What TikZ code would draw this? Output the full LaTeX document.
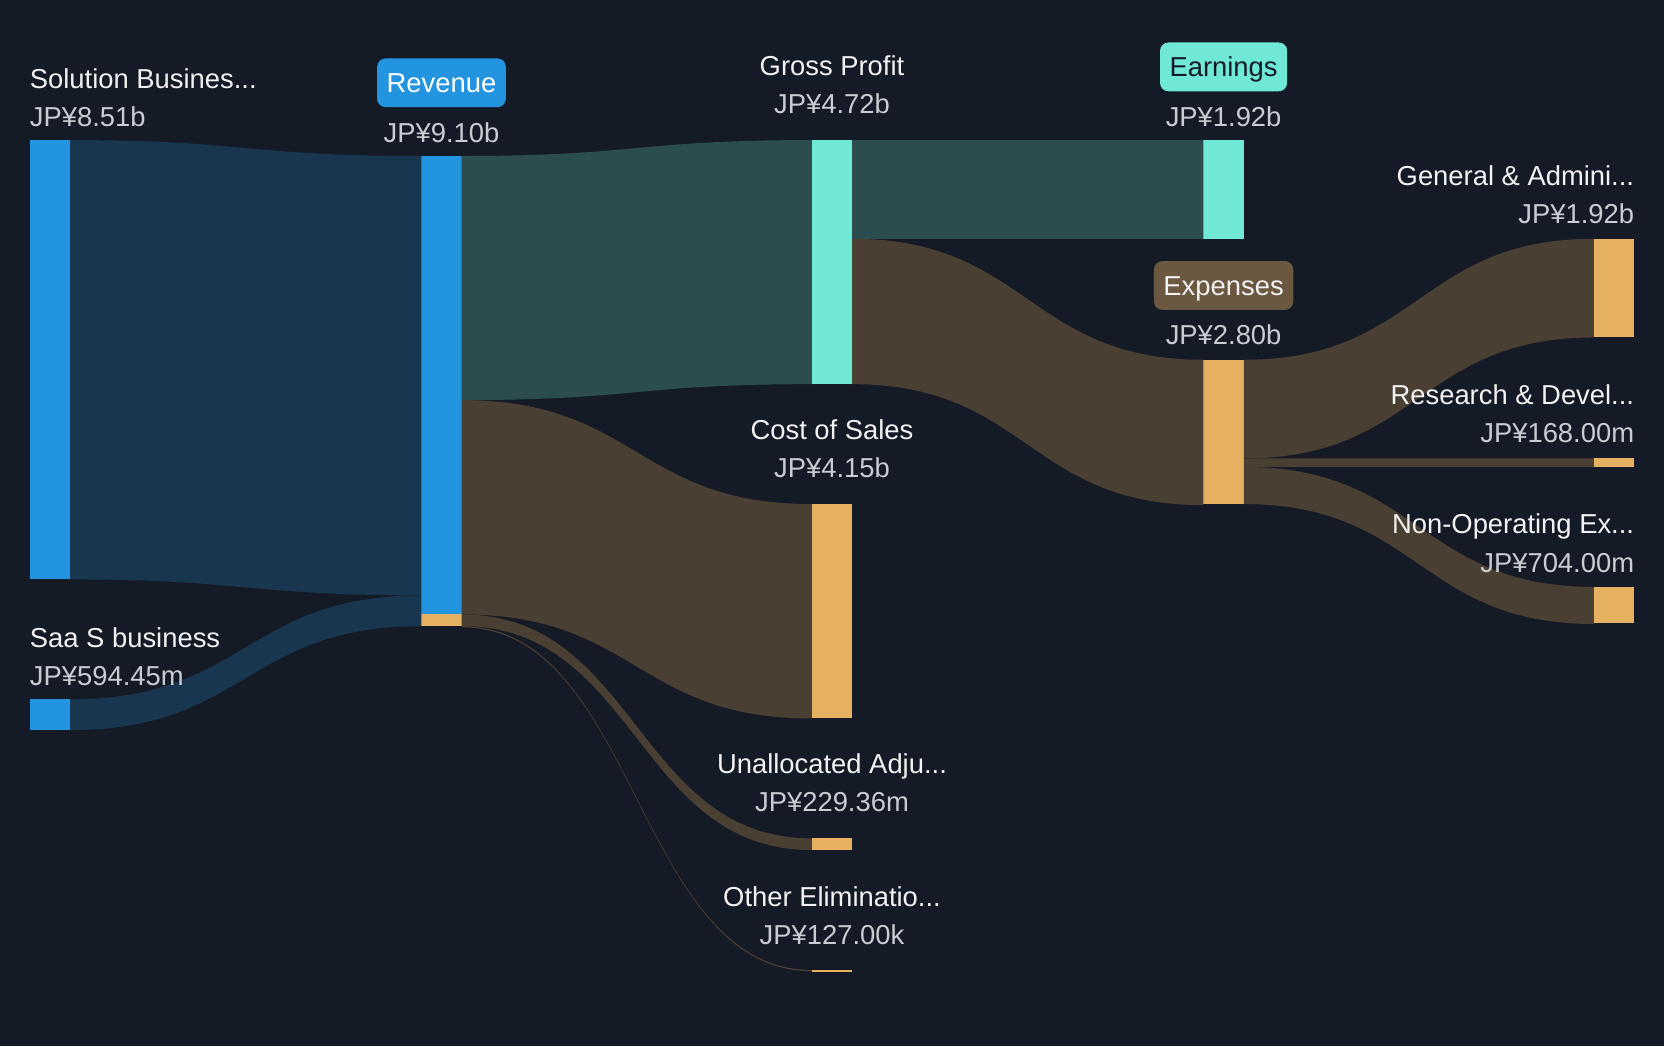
\documentclass[tikz,border=0pt]{standalone}
\usepackage{fontspec}
\setmainfont{Liberation Sans}
\usetikzlibrary{calc,positioning}

\definecolor{bgdark}{HTML}{151B26}
\definecolor{barblue}{HTML}{2394DF}
\definecolor{flowblue}{HTML}{18364F}
\definecolor{barteal}{HTML}{6FE8D5}
\definecolor{flowteal}{HTML}{2C4D50}
\definecolor{barorange}{HTML}{E6B061}
\definecolor{flowbrown}{HTML}{4A3F33}
\definecolor{badgebrown}{HTML}{6B5840}
\definecolor{nametxt}{HTML}{F2F2F2}
\definecolor{valtxt}{HTML}{C9CCD2}

% colour, source, source offset, target, target offset, thickness
\newcommand{\flow}[6]{%
  \fill[#1] ($(#2.north east)+(0,#3)$) .. controls +(165,0) and +(-165,0) .. ($(#4.north west)+(0,#5)$)
    -- ++(0,#6) .. controls +(-165,0) and +(165,0) .. ($(#2.north east)+(0,#3+#6)$) -- cycle;}

\begin{document}
\begin{tikzpicture}[x=1pt,y=-1pt,
    bar/.style={anchor=north west,inner sep=0pt,outer sep=0pt,minimum width=38pt},
    lbl/.style={inner sep=0pt,text=nametxt,font=\fontsize{25.8}{30}\selectfont},
    amt/.style={inner sep=0pt,text=valtxt,font=\fontsize{25.8}{30}\selectfont},
    badge/.style={anchor=base,rounded corners=8pt,inner xsep=9pt,inner ysep=0pt,minimum height=46pt,
      text height=22pt,text depth=4pt,font=\fontsize{25.8}{30}\selectfont}]
  \fill[bgdark] (0,0) rectangle (1568,986);
  \path[use as bounding box] (0,0) rectangle (1568,986);

  % bars
  \node[bar,fill=barblue,minimum height=414pt] (sol) at (28,132) {};
  \node[bar,fill=barblue,minimum height=29pt] (saa) at (28,659) {};
  \node[bar,fill=barblue,minimum height=432pt] (rev) at (397,147) {};
  \node[bar,fill=barorange,minimum height=11pt,below=0pt of rev] (revx) {};
  \node[bar,fill=barteal,minimum height=230pt] (gp) at (765,132) {};
  \node[bar,fill=barorange,minimum height=202pt] (cos) at (765,475) {};
  \node[bar,fill=barorange,minimum height=11pt] (una) at (765,790) {};
  \node[bar,fill=barorange,minimum height=1.5pt] (oth) at (765,914) {};
  \node[bar,fill=barteal,minimum height=93pt] (earn) at (1134,132) {};
  \node[bar,fill=barorange,minimum height=136pt] (exp) at (1134,339) {};
  \node[bar,fill=barorange,minimum height=93pt] (ga) at (1502,225) {};
  \node[bar,fill=barorange,minimum height=8pt] (rd) at (1502,432) {};
  \node[bar,fill=barorange,minimum height=34pt] (nonop) at (1502,553) {};

  % flows
  \flow{flowblue}{sol}{0}{rev}{0}{414}
  \flow{flowblue}{saa}{0}{rev}{414}{29}
  \flow{flowteal}{rev}{0}{gp}{0}{230}
  \flow{flowbrown}{rev}{230}{cos}{0}{202}
  \flow{flowbrown}{rev}{432}{una}{0}{11}
  \flow{flowbrown}{rev}{443}{oth}{0}{1.2}
  \flow{flowteal}{gp}{0}{earn}{0}{93}
  \flow{flowbrown}{gp}{93}{exp}{0}{137}
  \flow{flowbrown}{exp}{0}{ga}{0}{93}
  \flow{flowbrown}{exp}{93}{rd}{0}{8}
  \flow{flowbrown}{exp}{101}{nonop}{0}{35}

  % labels
  \node[amt,anchor=base west] (solv) at ([yshift=13pt]sol.north west) {JP¥8.51b};
  \node[lbl,anchor=base west] (soll) at ([yshift=36pt]solv.base west) {Solution Busines...};
  \node[amt,anchor=base west] (saav) at ([yshift=13pt]saa.north west) {JP¥594.45m};
  \node[lbl,anchor=base west] (saal) at ([yshift=36pt]saav.base west) {Saa S business};

  \node[amt,anchor=base] (revv) at ([yshift=13pt]rev.north) {JP¥9.10b};
  \node[badge,fill=barblue,text=white] (revl) at ([yshift=47pt]revv.base) {Revenue};

  \node[amt,anchor=base] (gpv) at ([yshift=25pt]gp.north) {JP¥4.72b};
  \node[lbl,anchor=base] (gpl) at ([yshift=36pt]gpv.base) {Gross Profit};
  \node[amt,anchor=base] (cosv) at ([yshift=25pt]cos.north) {JP¥4.15b};
  \node[lbl,anchor=base] (cosl) at ([yshift=36pt]cosv.base) {Cost of Sales};
  \node[amt,anchor=base] (unav) at ([yshift=25pt]una.north) {JP¥229.36m};
  \node[lbl,anchor=base] (unal) at ([yshift=36pt]unav.base) {Unallocated Adju...};
  \node[amt,anchor=base] (othv) at ([yshift=24pt]oth.north) {JP¥127.00k};
  \node[lbl,anchor=base] (othl) at ([yshift=36pt]othv.base) {Other Eliminatio...};

  \node[amt,anchor=base] (earnv) at ([yshift=13pt]earn.north) {JP¥1.92b};
  \node[badge,fill=barteal,text=bgdark] (earnl) at ([yshift=47pt]earnv.base) {Earnings};
  \node[amt,anchor=base] (expv) at ([yshift=14pt]exp.north) {JP¥2.80b};
  \node[badge,fill=badgebrown,text=nametxt] (expl) at ([yshift=47pt]expv.base) {Expenses};

  \node[amt,anchor=base east] (gav) at ([yshift=14pt]ga.north east) {JP¥1.92b};
  \node[lbl,anchor=base east] (gal) at ([yshift=36pt]gav.base east) {General \& Admini...};
  \node[amt,anchor=base east] (rdv) at ([yshift=15pt]rd.north east) {JP¥168.00m};
  \node[lbl,anchor=base east] (rdl) at ([yshift=36pt]rdv.base east) {Research \& Devel...};
  \node[amt,anchor=base east] (nonopv) at ([yshift=14pt]nonop.north east) {JP¥704.00m};
  \node[lbl,anchor=base east] (nonopl) at ([yshift=36pt]nonopv.base east) {Non-Operating Ex...};
\end{tikzpicture}
\end{document}
